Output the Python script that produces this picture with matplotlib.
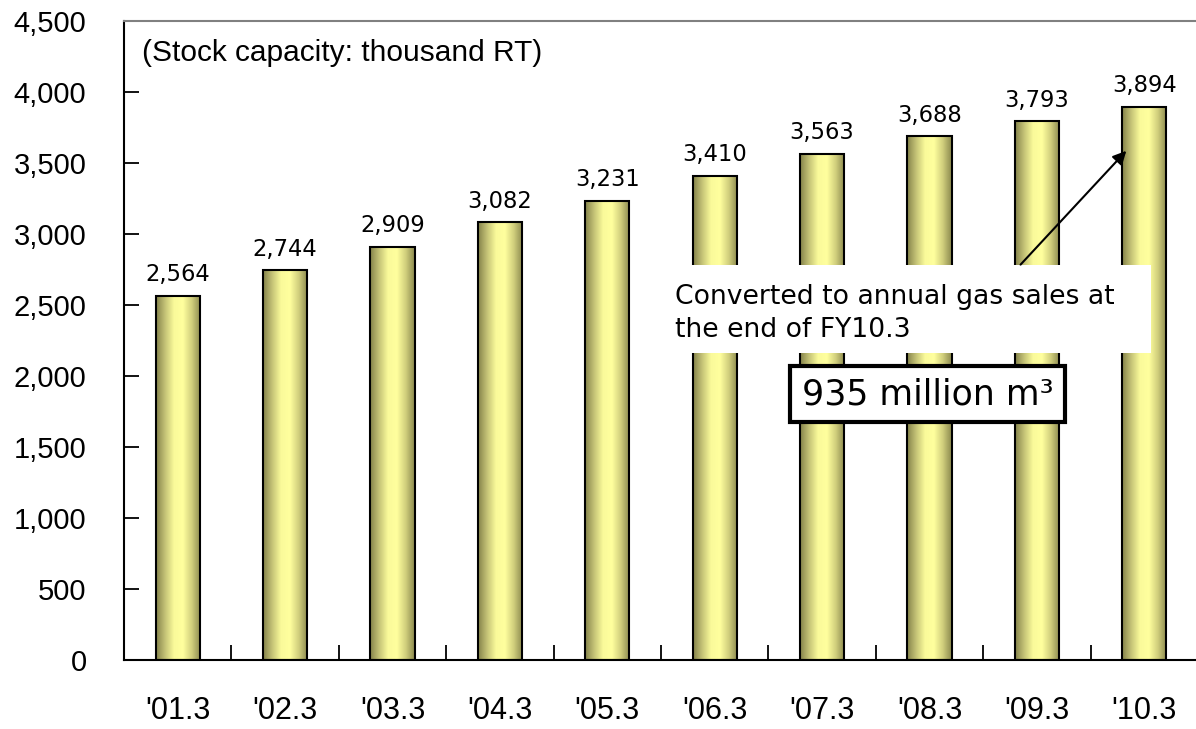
import numpy as np
import matplotlib.pyplot as plt
from matplotlib.colors import LinearSegmentedColormap
from matplotlib.patches import Rectangle

# stock capacity at fiscal year end, thousand RT
years = ["'01.3", "'02.3", "'03.3", "'04.3", "'05.3", "'06.3", "'07.3", "'08.3", "'09.3", "'10.3"]
capacity = [2564, 2744, 2909, 3082, 3231, 3410, 3563, 3688, 3793, 3894]
yticks = [0, 500, 1000, 1500, 2000, 2500, 3000, 3500, 4000, 4500]

fig = plt.figure(figsize=(11.96, 7.29), dpi=100)
ax = fig.add_axes([124 / 1196, 69 / 729, 1074 / 1196, 639 / 729])

# cylinder-like shading across each bar
shade = LinearSegmentedColormap.from_list(
    'bar', ['#83814a', '#c4c276', '#fafa9a', '#ffff9e', '#d0ce7c', '#89874d'])
grad = np.linspace(0, 1, 256).reshape(1, -1)

x = np.arange(len(years))
width = 0.41
bars = ax.bar(x, capacity, width=width, color='none', edgecolor='black', linewidth=1.5, zorder=3)
for b in bars:
    x0, w, h = b.get_x(), b.get_width(), b.get_height()
    im = ax.imshow(grad, cmap=shade, extent=(x0, x0 + w, 0, h), aspect='auto', zorder=2)
    im.set_clip_path(Rectangle((x0, 0), w, h, transform=ax.transData))

for xi, v in zip(x, capacity):
    ax.annotate(f'{v:,}', (xi, v), xytext=(0, 7), textcoords='offset points',
                ha='center', va='bottom', fontsize=16.3, family='DejaVu Sans')

ax.set_xlim(-0.5, len(years) - 0.5)
ax.set_ylim(0, 4500)
ax.set_yticks(yticks)
ax.set_yticklabels([f'{t:,}' for t in yticks], fontsize=21, family='Liberation Sans')
ax.set_xticks(x)
ax.set_xticklabels(years, fontsize=22, family='Liberation Sans')
ax.set_xticks(x[:-1] + 0.5, minor=True)
ax.tick_params(axis='y', direction='in', length=11, width=1.3, pad=27)
ax.tick_params(axis='x', which='major', length=0, pad=26)
ax.tick_params(axis='x', which='minor', direction='in', length=11, width=1.3)

for s in ['left', 'bottom']:
    ax.spines[s].set_linewidth(1.5)
ax.spines['top'].set_color('#808080')
ax.spines['top'].set_linewidth(1.5)
ax.spines['right'].set_visible(False)

ax.text(0.017, 0.972, '(Stock capacity: thousand RT)', transform=ax.transAxes,
        fontsize=21.5, family='Liberation Sans', va='top', ha='left')

# arrow pointing at the latest year
ax.annotate('', xy=(8.85, 3600), xytext=(7.83, 2770),
            arrowprops=dict(arrowstyle='-|>', color='black', lw=1.5, mutation_scale=20), zorder=6)

# white note box over the bars
ax.add_patch(Rectangle((4.54, 2162), 4.52, 620, facecolor='white', edgecolor='none', zorder=5))
ax.text(4.63, 2440, 'Converted to annual gas sales at\nthe end of FY10.3', fontsize=19.2,
        family='DejaVu Sans', va='center', ha='left', linespacing=1.35, zorder=7)
ax.text(6.98, 1873, '935 million m\u00b3', fontsize=25, family='DejaVu Sans', ha='center', va='center',
        zorder=7, bbox=dict(boxstyle='square,pad=0.33', facecolor='white', edgecolor='black', linewidth=3))

fig.savefig('out.png', dpi=100)
